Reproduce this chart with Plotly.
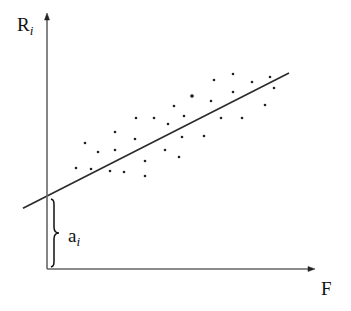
import plotly.graph_objects as go

# Data (in chart units, origin at axis corner)
dot_x = [186, 223, 167, 205, 227, 186, 145, 164, 218, 127, 137, 107, 89, 174, 195,
         121, 68, 135, 157, 88, 38, 51, 68, 118, 132, 98, 29, 44, 63, 77, 98]
dot_y = [195, 192, 189, 187, 181, 177, 173, 168, 164, 163, 153, 151, 151, 151, 151,
         145, 137, 132, 133, 130, 126, 117, 119, 119, 112, 108, 101, 100, 98, 97, 93]
big_dot_x = [145]
big_dot_y = [173]

line_x = [-24, 242]
intercept = 73
slope = 0.508
line_y = [intercept + slope * v for v in line_x]

x_axis_end = 268
y_axis_end = 256

fig = go.Figure()

fig.add_trace(go.Scatter(x=line_x, y=line_y, mode="lines",
                         line=dict(color="#2a2a2a", width=1.6), hoverinfo="skip"))
fig.add_trace(go.Scatter(x=dot_x, y=dot_y, mode="markers",
                         marker=dict(color="#222222", size=2.6), hoverinfo="skip"))
fig.add_trace(go.Scatter(x=big_dot_x, y=big_dot_y, mode="markers",
                         marker=dict(color="#222222", size=3.6), hoverinfo="skip"))

axis_col = "#666666"
# axes
fig.add_shape(type="line", x0=0, y0=0, x1=0, y1=y_axis_end - 5, xref="x", yref="y",
              line=dict(color=axis_col, width=1.6))
fig.add_shape(type="line", x0=0, y0=0, x1=x_axis_end - 5, y1=0, xref="x", yref="y",
              line=dict(color=axis_col, width=1.6))
# arrowheads
h = 7
w = 2.5
fig.add_shape(type="path", xref="x", yref="y",
              path=f"M 0,{y_axis_end} L {-w},{y_axis_end - h} L {w},{y_axis_end - h} Z",
              fillcolor="#222222", line=dict(color="#222222", width=0.5))
fig.add_shape(type="path", xref="x", yref="y",
              path=f"M {x_axis_end},0 L {x_axis_end - h},{-w} L {x_axis_end - h},{w} Z",
              fillcolor="#222222", line=dict(color="#222222", width=0.5))

# brace
brace = ("M 4,70 C 7,69 7,67 7,64 L 7,42 C 7,38 9,36 12,36 "
         "C 9,36 7,34 7,30 L 7,8 C 7,5 7,3 4,2")
fig.add_shape(type="path", path=brace, xref="x", yref="y",
              line=dict(color="#111111", width=1.5))

serif = "Liberation Serif"
fig.add_annotation(x=-22, y=243, xref="x", yref="y", showarrow=False,
                   text="R<sub><i>i</i></sub>", font=dict(family=serif, size=19, color="#111"))
fig.add_annotation(x=27, y=32, xref="x", yref="y", showarrow=False,
                   text="a<sub><i>i</i></sub>", font=dict(family=serif, size=19, color="#111"))
fig.add_annotation(x=279, y=-19, xref="x", yref="y", showarrow=False,
                   text="F", font=dict(family=serif, size=19, color="#111"))

fig.update_layout(
    width=351, height=311,
    margin=dict(l=0, r=0, t=0, b=0),
    paper_bgcolor="white", plot_bgcolor="white",
    showlegend=False,
    xaxis=dict(range=[-47, 304], visible=False, fixedrange=True),
    yaxis=dict(range=[-42, 269], visible=False, fixedrange=True),
)

fig.write_html("out.html", config={"displayModeBar": False})
